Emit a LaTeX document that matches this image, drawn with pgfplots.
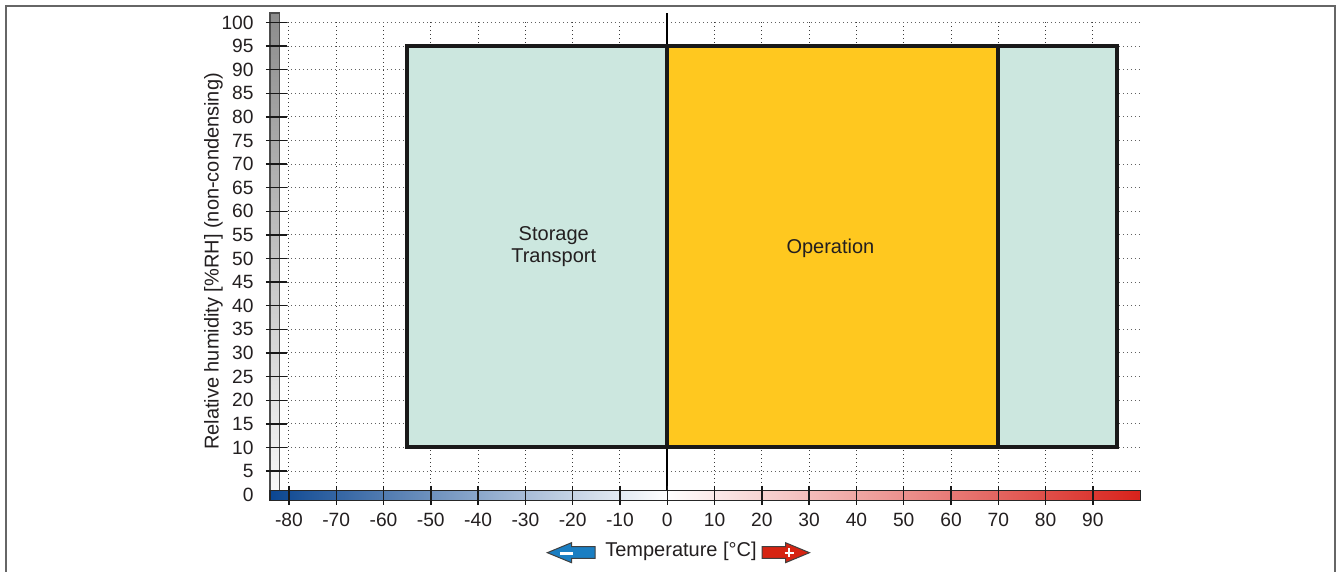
\documentclass[border=0pt]{standalone}
\usepackage{pgfplots}
\pgfplotsset{compat=1.18}
\usepackage{fontspec}
\setmainfont{Liberation Sans}
\definecolor{mint}{HTML}{CCE7DF}
\definecolor{opyellow}{HTML}{FFC81F}
\definecolor{barblue}{HTML}{0B4691}
\definecolor{barred}{HTML}{D8221B}
\definecolor{txt}{HTML}{231F20}
\definecolor{arrowblue}{HTML}{1A7EC2}
\definecolor{arrowred}{HTML}{D62412}
\definecolor{gridc}{HTML}{3A3A3A}
\begin{document}
\begin{tikzpicture}
\useasboundingbox (0,0) rectangle (669pt,286pt);
\begin{axis}[
  at={(135pt,35.6pt)}, anchor=south west,
  scale only axis, width=435.1pt, height=243.9pt,
  xmin=-84, xmax=100, ymin=-1.3, ymax=102,
  axis line style={draw=none}, tick style={draw=none}, major tick length=0pt,
  xtick={-80,-70,...,90}, ytick={0,5,...,100},
  /pgf/number format/assume math mode=true,
  ticklabel style={font=\fontsize{9.6}{11}\selectfont, text=txt, inner sep=0pt},
  xticklabel style={anchor=north, yshift=-6pt},
  yticklabel style={anchor=east, xshift=-8pt},
  clip=false,
]
% gray vertical bar
\path[draw=black!70, line width=0.6pt, top color=black!45, bottom color=black!3]
  (axis cs:-84,0.8) rectangle (axis cs:-82,102);
% grid
\pgfplotsinvokeforeach{-80,-70,-60,-50,-40,-30,-20,-10,10,20,30,40,50,60,70,80,90}{
  \draw[gridc, line width=0.5pt, dash pattern=on 0.6pt off 1.4pt] (axis cs:#1,0.8) -- (axis cs:#1,100.5);
}
\pgfplotsinvokeforeach{5,10,...,100}{
  \draw[gridc!80, line width=0.5pt, dash pattern=on 0.6pt off 1.4pt] (axis cs:-80.43,#1) -- (axis cs:100,#1);
}
% zero line
\draw[black, line width=1pt] (axis cs:0,0.8) -- (axis cs:0,102);
% ranges
\addplot[draw=black!90, line width=2pt, line join=miter, fill=mint]
  coordinates {(-55,10) (95,10) (95,95) (-55,95)} -- cycle;
\addplot[draw=black!90, line width=2pt, line join=miter, fill=opyellow]
  coordinates {(0,10) (70,10) (70,95) (0,95)} -- cycle;
% colour bar
\path[left color=barblue, right color=white] (axis cs:-84,-1.3) rectangle (axis cs:0,0.8);
\path[left color=white, right color=barred] (axis cs:0,-1.3) rectangle (axis cs:100,0.8);
\draw[black!85, line width=0.6pt] (axis cs:-84,-1.3) rectangle (axis cs:100,0.8);
% ticks
\pgfplotsinvokeforeach{-80,-70,...,90}{
  \draw[black!90, line width=0.7pt] (axis cs:#1,1.84) -- (axis cs:#1,-2.18);
}
\pgfplotsinvokeforeach{5,10,...,100}{
  \draw[black!90, line width=0.7pt] (axis cs:-84.87,#1) -- (axis cs:-80.43,#1);
}
\node[align=center, font=\fontsize{10}{11}\selectfont, text=txt] at (axis cs:-24,52.6) {Storage\\Transport};
\node[font=\fontsize{10}{11}\selectfont, text=txt] at (axis cs:34.5,52.1) {Operation};
\end{axis}
\begin{scope}[x=0.5pt, y=-0.5pt, yshift=286pt]
  % frame
  \draw[black!60, line width=1pt] (6,572) -- (6,6) -- (1335,6) -- (1335,572);
  % y label
  \node[rotate=90, anchor=base, inner sep=0pt, font=\fontsize{10}{12}\selectfont, text=txt]
    at (218.5,261.5) {Relative humidity [\%RH] (non-condensing)};
  % x label
  \node[anchor=center, inner sep=0pt, font=\fontsize{10}{12}\selectfont, text=txt]
    at (681,551.5) {Temperature [°C]};
  % blue arrow
  \draw[black!75, line width=0.5pt, fill=arrowblue, line join=miter]
    (547.3,552.7) -- (571.5,542.7) -- (571.5,546.7) -- (595,546.7) -- (595,558.5)
    -- (571.5,558.5) -- (571.5,562.7) -- cycle;
  \fill[white] (560,551.7) rectangle (573,555.5);
  % red arrow
  \draw[black!75, line width=0.5pt, fill=arrowred, line join=miter]
    (762,546.7) -- (785.5,546.7) -- (785.5,542.7) -- (809.5,552.7) -- (785.5,562.7)
    -- (785.5,558.5) -- (762,558.5) -- cycle;
  \draw[white, line width=1.2pt] (784.5,553) -- (793.5,553) (789,548.5) -- (789,557.5);
\end{scope}
\end{tikzpicture}
\end{document}
